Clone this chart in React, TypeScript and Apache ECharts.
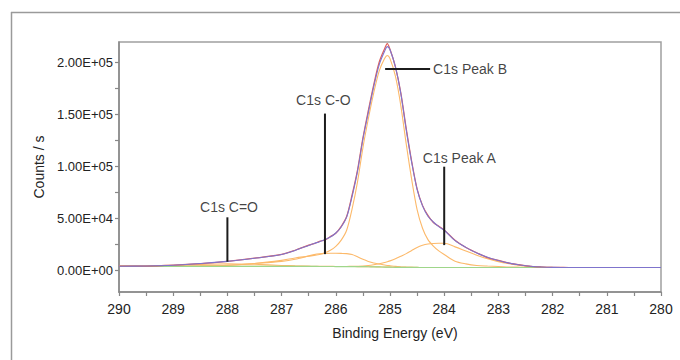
import React, { useEffect, useRef } from "react";
import * as echarts from "echarts";

// Binding energy grid (eV)
const bindingEnergy = [
  290, 289.5, 289, 288.5, 288, 287.5, 287, 286.75, 286.5, 286.4, 286.3, 286.2, 286.1, 286.0, 285.9,
  285.8, 285.7, 285.6, 285.5, 285.4, 285.3, 285.2, 285.1, 285.05, 285.0, 284.9, 284.8, 284.7, 284.6,
  284.5, 284.4, 284.3, 284.2, 284.1, 284.0, 283.8, 283.6, 283.4, 283.2, 283.0, 282.8, 282.6, 282.4,
  282.2, 282.0, 281.8, 281.6, 281.0, 280.5, 280,
];

// Measured counts (red)
const measured = [
  3900, 4000, 4900, 6400, 8600, 11600, 15300, 19300, 24200, 25600, 27800, 29200, 32400, 35600, 42300,
  51800, 72500, 96500, 127500, 154000, 179000, 200500, 213500, 218500, 213000, 196000, 171000, 136500, 105000,
  78500, 62500, 52800, 46000, 42300, 38800, 28800, 21800, 16800, 12200, 9500, 6900, 5100, 3700,
  3100, 2750, 2650, 2600, 2600, 2620, 2600,
];

// Fitted envelope (purple)
const envelope = [
  3800, 4100, 4800, 6500, 8500, 11500, 15200, 19100, 23900, 25800, 27500, 29500, 32000, 35900, 41700,
  51200, 71000, 95000, 126000, 152000, 177000, 198000, 211000, 215500, 212500, 196000, 170000, 135000, 104000,
  78000, 62000, 52000, 46500, 42000, 38500, 28500, 22000, 16500, 12500, 9300, 6800, 5000, 3750,
  3050, 2700, 2620, 2600, 2600, 2600, 2600,
];

// Component: C1s Peak B
const peakB = [
  3700, 3750, 3850, 4200, 4900, 6500, 9500, 11800, 13500, 14300, 15200, 16800, 19200, 23000, 29000,
  38500, 59000, 85000, 118000, 146000, 171000, 192000, 204000, 207000, 204000, 187000, 158500, 121500, 87500,
  58500, 40500, 29500, 23300, 18600, 15100, 8600, 6100, 4600, 4000, 3600, 3100, 2900, 2750,
  2650, 2600, 2600, 2600, null, null, null,
];

// Component: C1s C-O
const peakCO = [
  3750, 3800, 3950, 4200, 4700, 6500, 8500, 10500, 13800, 15000, 15800, 16200, 16300, 16300, 16200,
  16000, 15200, 13000, 10500, 8500, 7000, 6000, 5000, 4600, 4300, 3700, 3300, 3000, 2800,
  2700, 2650, 2600, 2600, 2600, 2600, 2600, 2600, 2600, 2600, 2600, 2600, 2600, 2600,
  2600, 2600, 2600, 2600, null, null, null,
];

// Component: C1s Peak A
const peakA = [
  3700, 3700, 3750, 3750, 3750, 3750, 3700, 3700, 3650, 3650, 3600, 3600, 3600, 3550, 3600,
  3650, 3700, 3800, 4000, 4500, 5300, 6300, 7500, 8200, 9000, 11000, 13500, 16000, 19000,
  22000, 24000, 25200, 25800, 26000, 26000, 22500, 18500, 14500, 11000, 8300, 6300, 4700, 3600,
  3000, 2700, 2600, 2600, null, null, null,
];

// Component: C1s C=O
const peakCdO = [
  3800, 4000, 4500, 5500, 6300, 5700, 4600, 4200, 3900, 3800, 3750, 3700, 3700, 3650, 3600,
  3550, 3550, 3500, 3450, 3400, 3300, 3200, 3050, 3000, 2950, 2850, 2800, 2750, 2700,
  2650, 2600, 2600, 2600, 2600, 2600, 2600, 2600, 2600, 2600, 2600, 2600, 2600, 2600,
  2600, 2600, 2600, 2600, null, null, null,
];

// Background (green)
const background = [
  3700, 3700, 3750, 3750, 3750, 3750, 3700, 3700, 3650, 3650, 3600, 3600, 3600, 3550, 3550,
  3500, 3500, 3450, 3400, 3350, 3250, 3150, 3000, 2950, 2900, 2800, 2750, 2700, 2650,
  2650, 2600, 2600, 2600, 2600, 2600, 2600, 2600, 2600, 2600, 2600, 2600, 2600, 2600,
  2600, 2600, 2600, 2600, null, null, null,
];

// Y axis ticks / labels
const yLabelValues = [0, 50000, 100000, 150000, 200000];
const yLabelTexts = ["0.00E+00", "5.00E+04", "1.00E+05", "1.50E+05", "2.00E+05"];
const yTickValues = [0, 25000, 50000, 75000, 100000, 125000, 150000, 175000, 200000];

// Annotations: pointer lines [x1, y1, x2, y2] and labels
const annotNames = ["C1s C=O", "C1s C-O", "C1s Peak A", "C1s Peak B"];
const annotLines = [
  [288.0, 8200, 288.0, 51000],
  [286.2, 15500, 286.2, 151000],
  [284.0, 24200, 284.0, 99800],
  [285.09, 194000, 284.26, 194000],
];
const annotLabelPos = [
  [287.97, 61000],
  [286.23, 164000],
  [283.72, 108000],
  [284.26, 194000],
];

const FONT = "'Liberation Sans', Arial, Helvetica, sans-serif";

export default function App() {
  const ref = useRef<HTMLDivElement>(null);

  useEffect(() => {
    if (!ref.current) return;
    const chart = echarts.init(ref.current, null, { renderer: "svg" });

    const toPairs = (arr: (number | null)[]) =>
      bindingEnergy.map((x, i) => [x, arr[i] === null ? "-" : arr[i]]);

    const lineSeries = (name: string, arr: (number | null)[], color: string, width: number, z: number) => ({
      name,
      type: "line",
      data: toPairs(arr),
      showSymbol: false,
      symbol: "none",
      smooth: 0.3,
      connectNulls: false,
      lineStyle: { color, width },
      silent: true,
      z,
    });

    const series: any[] = [
      lineSeries("C1s C=O", peakCdO, "#fcb96a", 1.1, 2),
      lineSeries("C1s C-O", peakCO, "#fcb96a", 1.1, 2),
      lineSeries("C1s Peak A", peakA, "#fcb96a", 1.1, 2),
      lineSeries("C1s Peak B", peakB, "#fcb96a", 1.1, 2),
      lineSeries("Background", background, "#9fd68a", 1.2, 3),
      lineSeries("Measured", measured, "#e0605a", 1.2, 3),
      lineSeries("Envelope", envelope, "#7f74cc", 1.1, 4),
    ];

    annotLines.forEach((l, i) => {
      series.push({
        name: annotNames[i] + " pointer",
        type: "line",
        data: [
          [l[0], l[1]],
          [l[2], l[3]],
        ],
        symbol: "none",
        lineStyle: { color: "#1c1c1c", width: 2 },
        silent: true,
        z: 5,
      });
    });

    series.push({
      name: "labels",
      type: "scatter",
      symbolSize: 0,
      silent: true,
      z: 6,
      data: annotLabelPos.map((p, i) => ({
        value: p,
        name: annotNames[i],
        label: {
          show: true,
          formatter: annotNames[i],
          position: i === 3 ? "right" : "inside",
          distance: 3,
          color: "#111",
          fontSize: 14,
          fontFamily: FONT,
        },
      })),
    });

    chart.setOption({
      animation: false,
      backgroundColor: "#fff",
      textStyle: { fontFamily: FONT },
      graphic: [
        {
          type: "line",
          z: -10,
          shape: { x1: 11, y1: 12.5, x2: 680, y2: 12.5 },
          style: { stroke: "#9a9a9a", lineWidth: 1.5 },
        },
        {
          type: "line",
          z: -10,
          shape: { x1: 11.5, y1: 12, x2: 11.5, y2: 360 },
          style: { stroke: "#9a9a9a", lineWidth: 1.5 },
        },
      ],
      grid: {
        left: 119,
        right: 19,
        top: 42,
        bottom: 68,
        show: true,
        borderColor: "#a0a0a0",
        borderWidth: 1.5,
        backgroundColor: "transparent",
        outerBoundsMode: "none",
      },
      xAxis: {
        type: "value",
        inverse: true,
        min: 280,
        max: 290,
        interval: 1,
        name: "Binding Energy (eV)",
        nameLocation: "middle",
        nameGap: 34,
        nameTextStyle: { fontSize: 14, color: "#222", fontFamily: FONT, padding: [0, 0, 0, 10] },
        axisLine: { show: true, onZero: false, lineStyle: { color: "#888", width: 1.5 } },
        axisTick: { show: true, length: 4, lineStyle: { color: "#888", width: 1.2 } },
        minorTick: { show: true, splitNumber: 2, length: 4, lineStyle: { color: "#888", width: 1.2 } },
        axisLabel: { fontSize: 14, color: "#222", margin: 10, fontFamily: FONT },
        splitLine: { show: false },
        minorSplitLine: { show: false },
      },
      yAxis: {
        type: "value",
        min: -21000,
        max: 220000,
        name: "Counts / s",
        nameLocation: "middle",
        nameRotate: 90,
        nameGap: 62,
        nameTextStyle: { fontSize: 14, color: "#222", fontFamily: FONT },
        axisLine: { show: true, onZero: false, lineStyle: { color: "#888", width: 1.5 } },
        axisTick: {
          show: true,
          length: 4,
          customValues: yTickValues,
          lineStyle: { color: "#888", width: 1.2 },
        },
        axisLabel: {
          fontSize: 13,
          color: "#222",
          margin: 6,
          fontFamily: FONT,
          customValues: yLabelValues,
          formatter: (v: number) => {
            const idx = yLabelValues.indexOf(v);
            return idx >= 0 ? yLabelTexts[idx] : "";
          },
        },
        splitLine: { show: false },
      },
      series,
    });

    return () => chart.dispose();
  }, []);

  return (
    <div
      ref={ref}
      style={{ position: "absolute", left: 0, top: 0, width: 680, height: 360, background: "#fff" }}
    />
  );
}
